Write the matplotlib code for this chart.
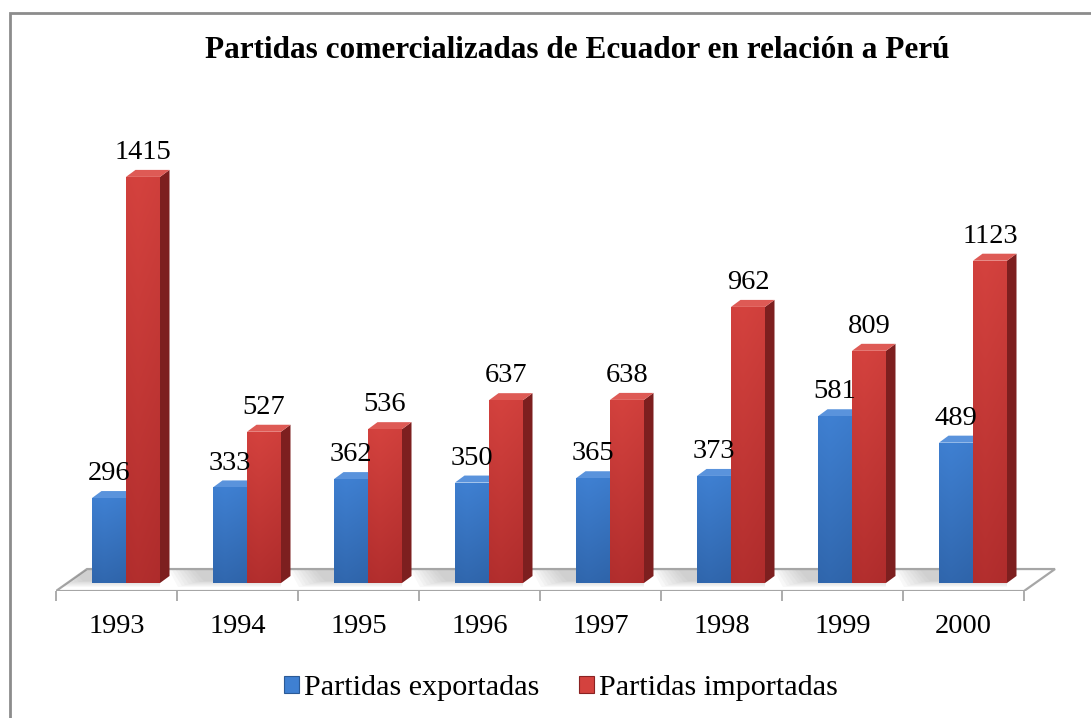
import numpy as np
import matplotlib
matplotlib.use("Agg")
import matplotlib.pyplot as plt
from matplotlib.patches import Polygon, Rectangle
from matplotlib.colors import LinearSegmentedColormap

years = ["1993", "1994", "1995", "1996", "1997", "1998", "1999", "2000"]
exportadas = [296, 333, 362, 350, 365, 373, 581, 489]
importadas = [1415, 527, 536, 637, 638, 962, 809, 1123]
series_names = ["Partidas exportadas", "Partidas importadas"]
title = "Partidas comercializadas de Ecuador en relación a Perú"

plt.rcParams['font.family'] = ['Liberation Serif', 'DejaVu Serif']

W, H = 1091, 718
fig = plt.figure(figsize=(W / 100, H / 100), dpi=100)
fig.patch.set_facecolor('white')

# pixel geometry
px_per_cat = 121.0
px_per_val = 0.287
x_left_px = 56
ymin, ymax = -28, 1600
xmax = 8.3
zero_px = 583
bottom_px = zero_px - ymin * px_per_val
top_px = zero_px - ymax * px_per_val
ax = fig.add_axes([x_left_px / W, (H - bottom_px) / H,
                   xmax * px_per_cat / W, (bottom_px - top_px) / H])
ax.set_facecolor('none')
for s in ax.spines.values():
    s.set_visible(False)

# depth offsets (bars)
dx = 9.5 / px_per_cat
dy = 7.0 / px_per_val
# floor depth
fdx = 31 / px_per_cat
fdy = 22 / px_per_val
ncat = len(years)

# floor
floor = Polygon([(0, ymin), (ncat, ymin), (ncat + fdx, ymin + fdy), (fdx, ymin + fdy)],
                closed=True, facecolor='white', edgecolor='#a6a6a6', lw=1.6, zorder=1)
ax.add_patch(floor)

# soft shadows on the floor
for i in range(ncat):
    for k in range(8):
        spread = 0.03 * k
        sh = Polygon([(i + 0.14 - spread, ymin + fdy - 4),
                      (i + 0.86, ymin + fdy - 4),
                      (i + 0.86, 8 - k * 3),
                      (i + 0.22 - spread, 8 - k * 3)],
                     closed=True, facecolor='#7f7f7f', edgecolor='none',
                     alpha=0.05, zorder=1.5)
        sh.set_clip_path(floor)
        ax.add_patch(sh)

bar_w = 34 / px_per_cat
blue_off = (92 - 56) / px_per_cat

styles = [
    dict(top='#5a93dc', front=('#3f80d2', '#2e63a8'), side='#24508a'),
    dict(top='#de5a55', front=('#d4423e', '#ad2b2b'), side='#7d1f1f'),
]


def grad_cmap(c_top, c_bot):
    return LinearSegmentedColormap.from_list('g', [c_bot, c_top])


def draw_bar(x0, v, st, z):
    side = Polygon([(x0 + bar_w, 0), (x0 + bar_w + dx, dy),
                    (x0 + bar_w + dx, v + dy), (x0 + bar_w, v)],
                   closed=True, facecolor=st['side'], edgecolor='none', zorder=z)
    ax.add_patch(side)
    topf = Polygon([(x0, v), (x0 + dx, v + dy), (x0 + bar_w + dx, v + dy), (x0 + bar_w, v)],
                   closed=True, facecolor=st['top'], edgecolor='none', zorder=z)
    ax.add_patch(topf)
    front = Rectangle((x0, 0), bar_w, v, facecolor='none', edgecolor='none', zorder=z)
    ax.add_patch(front)
    g = np.linspace(0, 1, 128).reshape(-1, 1)
    h = np.linspace(0, 1, 32).reshape(1, -1)
    shade = g * 0.85 + 0.15 * (1 - np.abs(h - 0.35) * 1.2)
    im = ax.imshow(shade, extent=(x0, x0 + bar_w, 0, v), origin='lower',
                   cmap=grad_cmap(*st['front']), aspect='auto', zorder=z,
                   interpolation='bilinear', vmin=0, vmax=1)
    im.set_clip_path(front)


for i in range(ncat):
    xb = i + blue_off
    xr = xb + bar_w
    draw_bar(xb, exportadas[i], styles[0], 3 + i * 0.01)
    draw_bar(xr, importadas[i], styles[1], 3.005 + i * 0.01)
    ax.annotate(str(exportadas[i]), (xb + bar_w / 2, exportadas[i] + dy),
                xytext=(0, 12.5), textcoords='offset points',
                ha='center', va='center', fontsize=20.5, zorder=10)
    ax.annotate(str(importadas[i]), (xr + bar_w / 2, importadas[i] + dy),
                xytext=(0, 12.5), textcoords='offset points',
                ha='center', va='center', fontsize=20.5, zorder=10)

ax.set_xlim(0, xmax)
ax.set_ylim(ymin, ymax)
ax.set_xticks(np.arange(ncat + 1))
ax.set_xticklabels([])
ax.set_yticks([])
ax.tick_params(axis='x', length=7.5, width=1.3, color='#a6a6a6', direction='out')

for i, yl in enumerate(years):
    ax.text(i + 0.5, ymin - 35 / px_per_val, yl, ha='center', va='center', fontsize=20.5)

fig.text(577 / W, 1 - 51 / H, title, ha='center', va='center',
         fontsize=22.5, fontweight='bold')

handles = [Rectangle((0, 0), 1, 1, facecolor=styles[0]['front'][0], edgecolor='#2b5a96', lw=0.8),
           Rectangle((0, 0), 1, 1, facecolor=styles[1]['front'][0], edgecolor='#8a2222', lw=0.8)]
fig.legend(handles, series_names, loc='center', bbox_to_anchor=(561 / W, 1 - 688 / H),
           ncol=2, frameon=False, fontsize=21.7, handlelength=0.5, handleheight=0.5,
           handletextpad=0.18, columnspacing=1.3, borderpad=0)

fig.add_artist(Rectangle((9.5 / W, -0.1), 1.2, 1 - 13 / H + 0.1,
                         transform=fig.transFigure, facecolor='none',
                         edgecolor='#8c8c8c', lw=2.0))

fig.savefig('out.png', dpi=100, facecolor='white')
